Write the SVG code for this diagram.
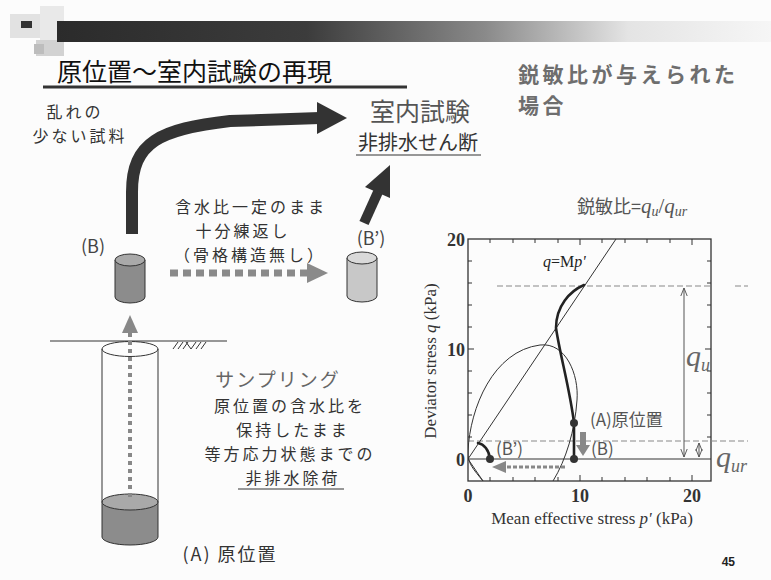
<svg xmlns="http://www.w3.org/2000/svg" width="771" height="580" viewBox="0 0 771 580">
  <defs>
    <linearGradient id="barGrad" x1="0" y1="0" x2="1" y2="0">
      <stop offset="0" stop-color="#2b2b2b"/>
      <stop offset="0.35" stop-color="#3c3c3c"/>
      <stop offset="0.6" stop-color="#8a8a8a"/>
      <stop offset="0.8" stop-color="#e4e4e4"/>
      <stop offset="1" stop-color="#f6f6f6"/>
    </linearGradient>
    <clipPath id="plotClip">
      <rect x="468" y="239" width="243" height="242"/>
    </clipPath>
    <marker id="openArrow" viewBox="0 0 10 10" refX="10" refY="5" markerWidth="8" markerHeight="8" orient="auto-start-reverse" markerUnits="userSpaceOnUse">
      <path d="M0,1 L10,5 L0,9" fill="none" stroke="#555" stroke-width="1.2"/>
    </marker>
  </defs>
  <style>
    .jp { font-family: "Noto Sans CJK JP", "Noto Sans", sans-serif; }
    .serif { font-family: "Liberation Serif", "DejaVu Serif", serif; }
    .frame { fill: none; stroke: #333; stroke-width: 1.3; }
    .tick { stroke: #333; stroke-width: 1; }
    .thin { fill: none; stroke: #333; stroke-width: 1; }
    .path { fill: none; stroke: #222; stroke-width: 2.6; stroke-linecap: round; }
    .guide { fill: none; stroke: #888; stroke-width: 1; stroke-dasharray: 6 3; }
    .dim { fill: none; stroke: #555; stroke-width: 1; }
    .body { font-size: 16px; letter-spacing: 3px; }
  </style>

  <rect width="771" height="580" fill="#fcfcfc"/>

  <!-- header decoration -->
  <g id="header">
    <rect x="10" y="14" width="30" height="24" fill="#e2e2e2"/>
    <rect x="40" y="6" width="24" height="40" fill="#e9e9e9"/>
    <rect x="36" y="40" width="28" height="16" fill="#d2d2d2"/>
    <rect x="34" y="44" width="10" height="10" fill="#bdbdbd"/>
    <rect x="21" y="21" width="11" height="7" fill="#333"/>
    <rect x="57" y="21" width="714" height="21" fill="url(#barGrad)"/>
    <text x="57" y="81" class="jp" font-size="25" fill="#111">原位置～室内試験の再現</text>
    <line x1="43" y1="87" x2="407" y2="87" stroke="#333" stroke-width="3"/>
    <text x="518" y="82" class="jp" font-size="21" letter-spacing="3.5" font-weight="bold" fill="#6e6e6e">鋭敏比が与えられた</text>
    <text x="518" y="113" class="jp" font-size="21" letter-spacing="3.5" font-weight="bold" fill="#6e6e6e">場合</text>
    <text x="735" y="566" text-anchor="end" font-family="Liberation Sans, sans-serif" font-size="12" font-weight="bold" fill="#222">45</text>
  </g>

  <!-- labels on the left -->
  <g id="label-sample" class="jp body" fill="#333" text-anchor="middle">
    <text x="75" y="118">乱れの</text>
    <text x="80" y="142">少ない試料</text>
  </g>
  <g id="label-lab" class="jp" text-anchor="middle">
    <text x="420" y="121" font-size="25" fill="#555">室内試験</text>
    <text x="418" y="150" font-size="20" fill="#333">非排水せん断</text>
    <line x1="356" y1="155" x2="481" y2="155" stroke="#333" stroke-width="1"/>
  </g>
  <g id="label-remold" class="jp body" fill="#333" text-anchor="middle">
    <text x="251" y="213">含水比一定のまま</text>
    <text x="243" y="237">十分練返し</text>
    <text x="250" y="261">（骨格構造無し）</text>
  </g>
  <g id="label-sampling" class="jp" text-anchor="middle" fill="#333">
    <text x="278" y="387" font-size="19" letter-spacing="2" fill="#666">サンプリング</text>
    <text x="290" y="412" class="body">原位置の含水比を</text>
    <text x="293" y="436" class="body">保持したまま</text>
    <text x="290" y="460" class="body">等方応力状態までの</text>
    <text x="293" y="484" class="body">非排水除荷</text>
    <line x1="238" y1="489" x2="344" y2="489" stroke="#333" stroke-width="1"/>
  </g>

  <!-- in-situ sample A -->
  <g id="node-A">
    <line x1="50" y1="341" x2="227" y2="341" stroke="#333" stroke-width="1"/>
    <g stroke="#333" stroke-width="1">
      <line x1="173" y1="349" x2="178" y2="342"/>
      <line x1="178" y1="349" x2="183" y2="342"/>
      <line x1="183" y1="349" x2="188" y2="342"/>
      <line x1="191" y1="349" x2="196" y2="342"/>
      <line x1="196" y1="349" x2="201" y2="342"/>
      <line x1="201" y1="349" x2="206" y2="342"/>
      <line x1="186" y1="342" x2="191" y2="349"/>
    </g>
    <path d="M102,502 L102,537 A28,8 0 0 0 158,537 L158,502 Z" fill="#8c8c8c" stroke="#333" stroke-width="1"/>
    <ellipse cx="130" cy="502" rx="28" ry="8" fill="#a9a9a9" stroke="#333" stroke-width="1"/>
    <path d="M102,349 L102,502 M158,349 L158,502" stroke="#333" stroke-width="1" fill="none"/>
    <ellipse cx="130" cy="349" rx="28" ry="7.5" fill="none" stroke="#333" stroke-width="1"/>
    <text x="230" y="561" class="jp" font-size="18" letter-spacing="2" fill="#333" text-anchor="middle">(A) 原位置</text>
  </g>

  <!-- sample B -->
  <g id="node-B">
    <text x="93" y="253" class="jp" font-size="18" fill="#444" text-anchor="middle">(B)</text>
    <path d="M115,260 L115,297 A15,6 0 0 0 145,297 L145,260 Z" fill="#8c8c8c" stroke="#333" stroke-width="1"/>
    <ellipse cx="130" cy="260" rx="15" ry="6" fill="#a9a9a9" stroke="#333" stroke-width="1"/>
  </g>

  <!-- remoulded sample B' -->
  <g id="node-B2">
    <text x="371" y="245" class="jp" font-size="18" fill="#444" text-anchor="middle">(B’)</text>
    <path d="M347,258 L347,296 A15,6 0 0 0 377,296 L377,258 Z" fill="#c8c8c8" stroke="#333" stroke-width="1"/>
    <ellipse cx="362" cy="258" rx="15" ry="6" fill="#d9d9d9" stroke="#333" stroke-width="1"/>
  </g>

  <!-- connectors -->
  <g id="connectors">
    <!-- sampling: A up to B -->
    <line x1="130" y1="497" x2="130" y2="333" stroke="#888" stroke-width="4" stroke-dasharray="4 4"/>
    <polygon points="122,333 138,333 130,315" fill="#888"/>
    <!-- remoulding: B to B' -->
    <line x1="170" y1="273" x2="307" y2="273" stroke="#8a8a8a" stroke-width="7" stroke-dasharray="8 5"/>
    <polygon points="307,263 307,283 328,273" fill="#8a8a8a"/>
    <!-- B to lab test -->
    <path d="M132,234 L132,192 C132,142 160,129 230,121 L320,118" fill="none" stroke="#333" stroke-width="12"/>
    <polygon points="317,102 347,118 317,134" fill="#333"/>
    <!-- B' to lab test -->
    <line x1="364" y1="223" x2="378" y2="192" stroke="#333" stroke-width="10"/>
    <polygon points="390,165 390,198 365,187" fill="#333"/>
  </g>

  <!-- stress path chart -->
  <g id="chart">
    <text x="577" y="213" class="jp" font-size="18" fill="#555">鋭敏比=<tspan class="serif" font-style="italic" font-size="21">q</tspan><tspan class="serif" font-style="italic" font-size="14" dy="3">u</tspan><tspan class="serif" font-size="21" dy="-3">/</tspan><tspan class="serif" font-style="italic" font-size="21">q</tspan><tspan class="serif" font-style="italic" font-size="14" dy="3">ur</tspan></text>

    <rect x="468" y="239" width="243" height="242" class="frame"/>
    <!-- x ticks every 2 kPa -->
    <path class="tick" d="M490,481v-4 M513,481v-4 M535,481v-4 M558,481v-4 M580,481v-6 M602,481v-4 M625,481v-4 M647,481v-4 M670,481v-4 M692,481v-6
      M490,239v4 M513,239v4 M535,239v4 M558,239v4 M580,239v6 M602,239v4 M625,239v4 M647,239v4 M670,239v4 M692,239v6"/>
    <!-- y ticks every 2 kPa -->
    <path class="tick" d="M468,437h4 M468,415h4 M468,393h4 M468,371h4 M468,349h6 M468,327h4 M468,305h4 M468,283h4 M468,261h4
      M711,437h-4 M711,415h-4 M711,393h-4 M711,371h-4 M711,349h-6 M711,327h-4 M711,305h-4 M711,283h-4 M711,261h-4"/>

    <g class="serif" font-size="18" font-weight="bold" fill="#333">
      <text x="465" y="246" text-anchor="end">20</text>
      <text x="465" y="356" text-anchor="end">10</text>
      <text x="465" y="466" text-anchor="end">0</text>
      <text x="468" y="502" text-anchor="middle">0</text>
      <text x="580" y="502" text-anchor="middle">10</text>
      <text x="692" y="502" text-anchor="middle">20</text>
    </g>
    <text x="592" y="524" class="serif" font-size="17" fill="#333" text-anchor="middle">Mean effective stress <tspan font-style="italic">p'</tspan> (kPa)</text>
    <text transform="translate(436,361) rotate(-90)" class="serif" font-size="17" fill="#333" text-anchor="middle">Deviator stress <tspan font-style="italic">q</tspan> (kPa)</text>

    <g clip-path="url(#plotClip)">
      <!-- reference lines -->
      <line x1="497" y1="286" x2="735" y2="286" class="guide"/>
      <line x1="468" y1="441" x2="748" y2="441" class="guide"/>
      <line x1="468" y1="459" x2="711" y2="459" stroke="#333" stroke-width="1.2"/>
      <!-- critical state line -->
      <line x1="468" y1="459" x2="616" y2="239" class="thin"/>
      <line x1="468" y1="459" x2="483" y2="481" class="thin"/>
      <!-- yield surface -->
      <path class="thin" d="M483,481 C474,470 467,463 468,451 C470,408 493,351 540,345 C566,342 579,375 577,400 C575,430 566,460 553,481"/>
      <!-- undrained stress paths -->
      <path class="path" d="M574,423 C570,390 560,355 556,328 C556,306 570,291 584,285"/>
      <line x1="574" y1="423" x2="574" y2="459" class="path"/>
      <path class="path" d="M478,443 C484,444 489,450 490,459"/>
    </g>
    <line x1="735" y1="286" x2="748" y2="286" class="guide"/>
    <line x1="711" y1="441" x2="748" y2="441" class="guide"/>

    <circle cx="574" cy="423" r="4" fill="#333"/>
    <circle cx="574" cy="459" r="4" fill="#333"/>
    <circle cx="490" cy="459" r="4" fill="#333"/>

    <!-- unloading arrows -->
    <line x1="583" y1="432" x2="583" y2="446" stroke="#888" stroke-width="6"/>
    <polygon points="576,445 590,445 583,456" fill="#888"/>
    <line x1="565" y1="467" x2="505" y2="467" stroke="#888" stroke-width="3" stroke-dasharray="4 2"/>
    <polygon points="506,461 506,473 492,467" fill="#888"/>

    <g class="jp" font-size="17" fill="#555">
      <text x="590" y="426">(A)原位置</text>
      <text x="591" y="455">(B)</text>
      <text x="496" y="455">(B’)</text>
    </g>
    <text x="543" y="267" class="serif" font-size="16" fill="#222"><tspan font-style="italic">q</tspan>=M<tspan font-style="italic">p'</tspan></text>

    <!-- strength dimensions -->
    <line x1="684" y1="288" x2="684" y2="457" class="dim" marker-start="url(#openArrow)" marker-end="url(#openArrow)"/>
    <line x1="699" y1="443" x2="699" y2="457" class="dim" marker-start="url(#openArrow)" marker-end="url(#openArrow)"/>
    <text x="686" y="366" class="serif" font-style="italic" font-size="30" fill="#666">q<tspan font-size="18" dy="5">u</tspan></text>
    <text x="716" y="467" class="serif" font-style="italic" font-size="30" fill="#666">q<tspan font-size="18" dy="5">ur</tspan></text>
  </g>
</svg>
